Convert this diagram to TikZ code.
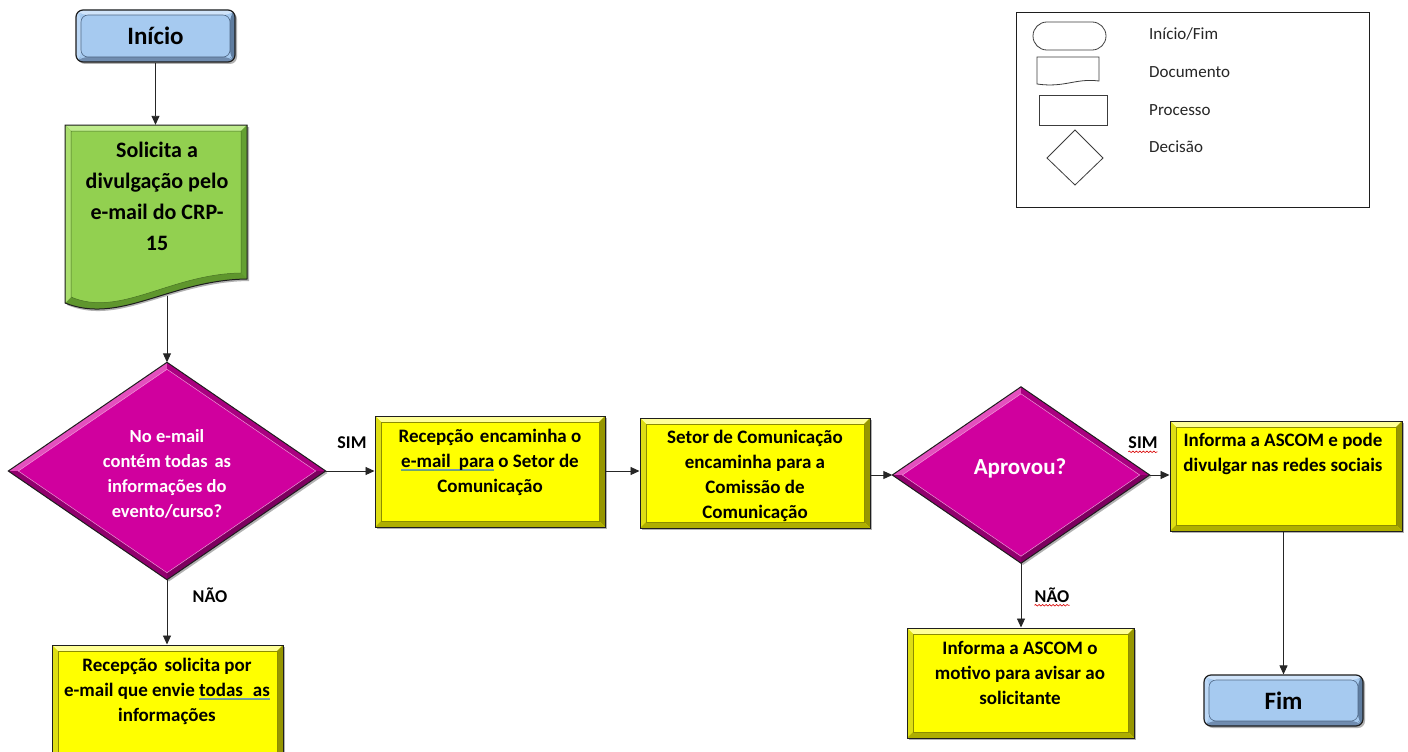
\documentclass[tikz,border=0pt]{standalone}
\usepackage{fontspec}
\setmainfont{Carlito}
\usetikzlibrary{shapes.geometric,arrows.meta,decorations.pathmorphing,shadows}
\definecolor{yel}{RGB}{255,255,0}
\definecolor{yelTop}{RGB}{255,255,150}
\definecolor{yelLeft}{RGB}{222,222,20}
\definecolor{yelRight}{RGB}{150,150,0}
\definecolor{yelBot}{RGB}{175,175,0}
\definecolor{yelIn}{RGB}{140,140,0}
\definecolor{blu}{RGB}{166,202,240}
\definecolor{bluTop}{RGB}{208,228,250}
\definecolor{bluLeft}{RGB}{188,216,246}
\definecolor{bluRight}{RGB}{95,125,160}
\definecolor{bluBot}{RGB}{112,140,175}
\definecolor{bluIn}{RGB}{80,105,135}
\definecolor{grn}{RGB}{146,208,80}
\definecolor{grnTop}{RGB}{190,235,140}
\definecolor{grnLeft}{RGB}{170,222,110}
\definecolor{grnRight}{RGB}{100,160,50}
\definecolor{grnBot}{RGB}{95,150,45}
\definecolor{mag}{RGB}{208,0,158}
\definecolor{magLight}{RGB}{228,80,190}
\definecolor{magMid}{RGB}{170,0,128}
\definecolor{magDark}{RGB}{125,0,95}
\definecolor{magDarkB}{RGB}{145,0,110}
\definecolor{edge}{RGB}{30,30,30}
\definecolor{legline}{RGB}{60,60,60}
\definecolor{ulA}{RGB}{120,150,190}
\definecolor{ulB}{RGB}{110,165,110}
\newcommand\gundr[1]{\setbox0=\hbox{#1}\rlap{\textcolor{ulA}{\rule[-2.4pt]{\wd0}{0.8pt}}}\rlap{\textcolor{ulB}{\rule[-3.4pt]{\wd0}{0.8pt}}}\box0\relax}
\newcommand\magbevel[1]{%
 \fill[magLight] (#1.west) -- (#1.north) -- ([yshift=-7pt]#1.north) -- ([xshift=10pt]#1.west) -- cycle;
 \fill[magMid] (#1.north) -- (#1.east) -- ([xshift=-10pt]#1.east) -- ([yshift=-7pt]#1.north) -- cycle;
 \fill[magDark] (#1.east) -- (#1.south) -- ([yshift=7pt]#1.south) -- ([xshift=-10pt]#1.east) -- cycle;
 \fill[magDarkB] (#1.south) -- (#1.west) -- ([xshift=10pt]#1.west) -- ([yshift=7pt]#1.south) -- cycle;
 \draw[magLight!60!white, line width=0.5pt] ([yshift=-7pt]#1.north) -- ([xshift=-10pt]#1.east) -- ([yshift=7pt]#1.south) -- ([xshift=10pt]#1.west) -- cycle;
 \draw[edge, line width=1pt, line join=miter] (#1.north) -- (#1.east) -- (#1.south) -- (#1.west) -- cycle;
}
\tikzset{
 bevel/.style n args={6}{path picture={
  \coordinate (pNW) at (path picture bounding box.north west);
  \coordinate (pNE) at (path picture bounding box.north east);
  \coordinate (pSW) at (path picture bounding box.south west);
  \coordinate (pSE) at (path picture bounding box.south east);
  \fill[#2] (pNW) -- (pNE) -- ([shift={(-#1,-#1)}]pNE) -- ([shift={(#1,-#1)}]pNW) -- cycle;
  \fill[#3] (pNW) -- ([shift={(#1,-#1)}]pNW) -- ([shift={(#1,#1)}]pSW) -- (pSW) -- cycle;
  \fill[#4] (pNE) -- (pSE) -- ([shift={(-#1,#1)}]pSE) -- ([shift={(-#1,-#1)}]pNE) -- cycle;
  \fill[#5] (pSW) -- (pSE) -- ([shift={(-#1,#1)}]pSE) -- ([shift={(#1,#1)}]pSW) -- cycle;
  \draw[#6, line width=0.6pt] ([shift={(#1,-#1)}]pNW) rectangle ([shift={(-#1,#1)}]pSE);
 }},
 shad/.style={drop shadow={shadow xshift=2pt,shadow yshift=-2pt,opacity=0.3,fill=black}},
 ybox/.style={rectangle, draw=edge, line width=1pt, fill=yel, inner sep=0pt, shad,
   bevel={6pt}{yelTop}{yelLeft}{yelRight}{yelBot}{yelIn}},
 bbox/.style={rectangle, rounded corners=7pt, draw=edge, line width=1.2pt, fill=blu, inner sep=0pt, shad,
   bevel={5pt}{bluTop}{bluLeft}{bluRight}{bluBot}{bluIn},
   font=\fontsize{25}{30}\selectfont\bfseries},
 dia/.style={diamond, fill=mag, inner sep=0pt, shad},
 arr/.style={draw=black!85, line width=0.9pt, -{Triangle[length=9pt,width=8pt]}},
 boxfont/.style={align=center, inner sep=0pt, font=\fontsize{19}{25}\selectfont\bfseries},
 lbl/.style={inner sep=0pt, font=\fontsize{18}{20}\selectfont\bfseries},
 legtext/.style={anchor=west, inner sep=0pt, font=\fontsize{17}{20}\selectfont, text=black!85},
 legshape/.style={draw=legline, line width=0.8pt},
 squig/.style={red!85!black, line width=0.6pt, decorate, decoration={snake, amplitude=0.8pt, segment length=3.5pt}}
}
\begin{document}
\begin{tikzpicture}[x=1pt,y=-1pt]
\useasboundingbox (0,0) rectangle (1408,752);
\fill[white] (0,0) rectangle (1408,752);
\clip (0,0) rectangle (1408,752);

% ---------- start ----------
\node[bbox, minimum width=159pt, minimum height=52pt] (ini) at (155.5,36) {Início};

% ---------- document ----------
\node[inner sep=0pt, minimum width=182pt, minimum height=172pt] (doc) at (156,211) {};
\fill[black, opacity=0.3] (67,127) -- (249,127) -- (249,281) .. controls (170,282) and (120,327) .. (67,305) -- cycle;
\fill[grnBot] (65,125) -- (247,125) -- (247,279) .. controls (170,280) and (120,325) .. (65,303) -- cycle;
\fill[grn] (71,131) -- (241,131) -- (241,273) .. controls (170,274) and (120,318) .. (71,297) -- cycle;
\fill[grnTop] (65,125) -- (247,125) -- (241,131) -- (71,131) -- cycle;
\fill[grnLeft] (65,125) -- (71,131) -- (71,297) -- (65,303) -- cycle;
\fill[grnRight] (247,125) -- (247,279) -- (241,273) -- (241,131) -- cycle;
\draw[grnRight!70!black, line width=0.5pt] (71,131) -- (241,131) -- (241,273) .. controls (170,274) and (120,318) .. (71,297) -- cycle;
\draw[edge, line width=1pt] (65,125) -- (247,125) -- (247,279) .. controls (170,280) and (120,325) .. (65,303) -- cycle;
\node[align=center, inner sep=0pt, font=\fontsize{22}{31}\selectfont\bfseries] (tdoc) at (157,196) {Solicita a\\divulgação pelo\\e-mail do CRP-\\15};
\coordinate (docb) at (167,296);

% ---------- decision 1 ----------
\node[dia, minimum width=317pt, minimum height=217pt] (d1) at (167,471) {};
\magbevel{d1}
\node[align=center, inner sep=0pt, text=white, font=\fontsize{18.5}{25}\selectfont\bfseries] (td1) at (167,474) {No e-mail\\contém todas\hspace{.15em} as\\informações do\\evento/curso?};

% ---------- boxes ----------
\node[ybox, minimum width=231pt, minimum height=115pt] (b1) at (167.5,702.5) {};
\node[boxfont] (tb1) at (167,691) {Recepção\hspace{.15em} solicita por\\e-mail que envie \gundr{todas\hspace{.3em} as}\\informações};

\node[ybox, minimum width=230pt, minimum height=111pt] (b2) at (490,471.5) {};
\node[boxfont] (tb2) at (490,462) {Recepção\hspace{.1em} encaminha o\\\gundr{e-mail\hspace{.2em} para} o Setor de\\Comunicação};

\node[ybox, minimum width=230pt, minimum height=110pt] (b3) at (755,473) {};
\node[boxfont] (tb3) at (755,475.5) {Setor de Comunicação\\encaminha para a\\Comissão de\\Comunicação};

% ---------- decision 2 ----------
\node[dia, minimum width=257pt, minimum height=176pt] (d2) at (1021,475) {};
\magbevel{d2}
\node[inner sep=0pt, text=white, font=\fontsize{23}{28}\selectfont\bfseries] (td2) at (1020,468) {Aprovou?};

\node[ybox, minimum width=232pt, minimum height=110pt] (b4) at (1286,476) {};
\node[boxfont] (tb4) at (1283,454) {Informa a ASCOM e pode\\divulgar nas redes sociais};

\node[ybox, minimum width=227pt, minimum height=110pt] (b5) at (1020.5,683) {};
\node[boxfont] (tb5) at (1020,673) {Informa a ASCOM o\\motivo para avisar ao\\solicitante};

\node[bbox, minimum width=159pt, minimum height=51pt] (fim) at (1283.5,700.5) {Fim};

% ---------- connectors ----------
\draw[arr] (ini.south) -- (ini.south |- doc.north);
\draw[arr] (docb) -- (docb |- d1.north);
\draw[arr] (d1.east) -- (d1.east -| b2.west);
\draw[arr] (d1.south) -- (d1.south |- b1.north);
\draw[arr] (b2.east |- d1.east) -- (d1.east -| b3.west);
\draw[arr] (d2.west -| b3.east) -- (d2.west);
\draw[arr] (d2.east) -- (d2.east -| b4.west);
\draw[arr] (d2.south) -- (d2.south |- b5.north);
\draw[arr] (fim.north |- b4.south) -- (fim.north);

% ---------- labels ----------
\node[lbl] (sim1) at (352,443) {SIM};
\node[lbl] (nao1) at (210,595) {NÃO};
\node[lbl] (sim2) at (1143,443) {SIM};
\node[lbl] (nao2) at (1052,595) {NÃO};
\draw[squig] ([yshift=-3pt]sim2.base west) -- ([yshift=-3pt]sim2.base east);
\draw[squig] ([yshift=-3pt]nao2.base west) -- ([yshift=-3pt]nao2.base east);

% ---------- legend ----------
\node[draw=edge, line width=0.8pt, minimum width=353pt, minimum height=195pt, inner sep=0pt] (leg) at (1192.5,109.5) {};
\draw[legshape, rounded corners=13.9pt] (1033,22) rectangle (1106,50);
\draw[legshape] (1037,57) -- (1099,57) -- (1099,81) .. controls (1075,78) and (1065,88) .. (1037,84) -- cycle;
\draw[legshape] (1039,95) rectangle (1107,125);
\draw[legshape] (1075,130) -- (1103,158) -- (1075,185) -- (1047,158) -- cycle;
\node[legtext] (l1) at (1149,34) {Início/Fim};
\node[legtext] (l2) at (1149,72) {Documento};
\node[legtext] (l3) at (1149,110) {Processo};
\node[legtext] (l4) at (1149,147) {Decisão};
\end{tikzpicture}
\end{document}
